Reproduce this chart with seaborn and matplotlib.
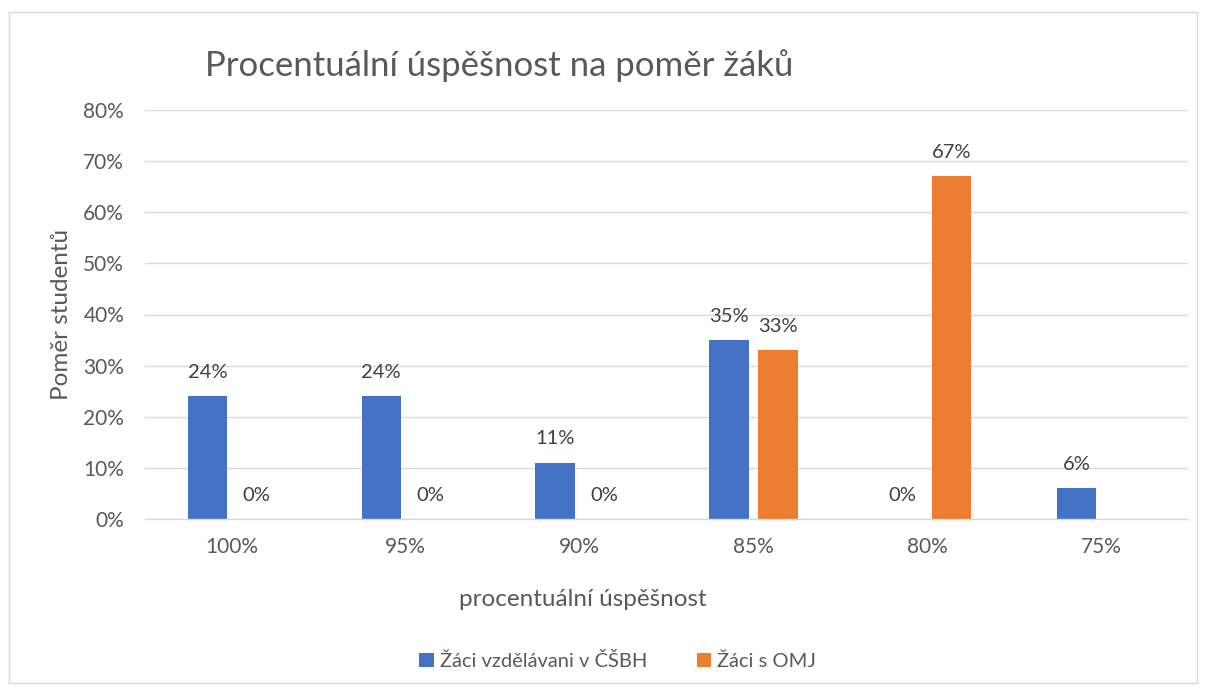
import matplotlib
matplotlib.use("Agg")
import matplotlib.pyplot as plt
import seaborn as sns
import pandas as pd
import numpy as np
from matplotlib.patches import Rectangle, Patch

categories = ["100%", "95%", "90%", "85%", "80%", "75%"]
series_names = ["Žáci vzdělávani v ČŠBH", "Žáci s OMJ"]
cshb_values = [24, 24, 11, 35, 0, 6]
omj_values = [0, 0, 0, 33, 67, np.nan]
y_ticks = [0, 10, 20, 30, 40, 50, 60, 70, 80]

rows = []
for c, a, b in zip(categories, cshb_values, omj_values):
    rows.append({"cat": c, "series": series_names[0], "val": a})
    rows.append({"cat": c, "series": series_names[1], "val": b})
df = pd.DataFrame(rows).dropna()

sns.set_theme(style="white")
plt.rcParams['font.family'] = ['Lato', 'DejaVu Sans']

W, H = 1207, 691
fig = plt.figure(figsize=(W / 100, H / 100), dpi=100)
ax = fig.add_axes([145 / W, 1 - 519 / H, (1188 - 145) / W, (519 - 110) / H])

colors = ["#4472C4", "#ED7D31"]
sns.barplot(data=df, x="cat", y="val", hue="series", order=categories,
            hue_order=series_names, palette=colors, width=0.564, gap=0.2,
            ax=ax, legend=False, saturation=1, edgecolor="none")

ax.set_ylim(0, 80)
ax.set_xlim(-0.5, 5.5)
ax.set_yticks(y_ticks)
ax.set_yticklabels([f"{t}%" for t in y_ticks])
ax.grid(axis="y", color="#D9D9D9", linewidth=1)
ax.set_axisbelow(True)
for s in ["top", "right", "left"]:
    ax.spines[s].set_visible(False)
ax.spines["bottom"].set_color("#D9D9D9")
ax.spines["bottom"].set_linewidth(1)
ax.tick_params(axis="both", length=0, labelsize=15, colors="#595959")
ax.tick_params(axis="x", pad=13)
ax.tick_params(axis="y", pad=15)

for cont in ax.containers:
    ax.bar_label(cont, fmt=lambda v: f"{v:.0f}%", padding=11, fontsize=14.5,
                 color="#404040")

ax.set_xlabel("procentuální úspěšnost", fontsize=17.5, color="#595959")
ax.xaxis.set_label_coords((583 - 145) / 1043, (519 - 600) / 409)
ax.xaxis.label.set_va("center")
ax.set_ylabel("Poměr studentů", fontsize=17.5, color="#595959")
ax.yaxis.set_label_coords((62 - 145) / 1043, (519 - 314) / 409)
ax.yaxis.label.set_va("center")

fig.text(205 / W, 1 - 66 / H, "Procentuální úspěšnost na poměr žáků",
         fontsize=25, color="#595959", ha="left", va="center")

handles = [Patch(facecolor=c, edgecolor="none") for c in colors]
fig.legend(handles, series_names, loc="center", bbox_to_anchor=(618 / W, 1 - 661 / H),
           ncol=2, frameon=False, fontsize=14.5, labelcolor="#595959",
           handlelength=0.7, handleheight=0.7, handletextpad=0.3, columnspacing=2.5)

fig.patches.append(Rectangle((9 / W, 1 - 683 / H), (1197 - 9) / W, (683 - 12) / H,
                             transform=fig.transFigure, fill=False,
                             edgecolor="#D9D9D9", linewidth=1))

fig.savefig("out.png", dpi=100)
